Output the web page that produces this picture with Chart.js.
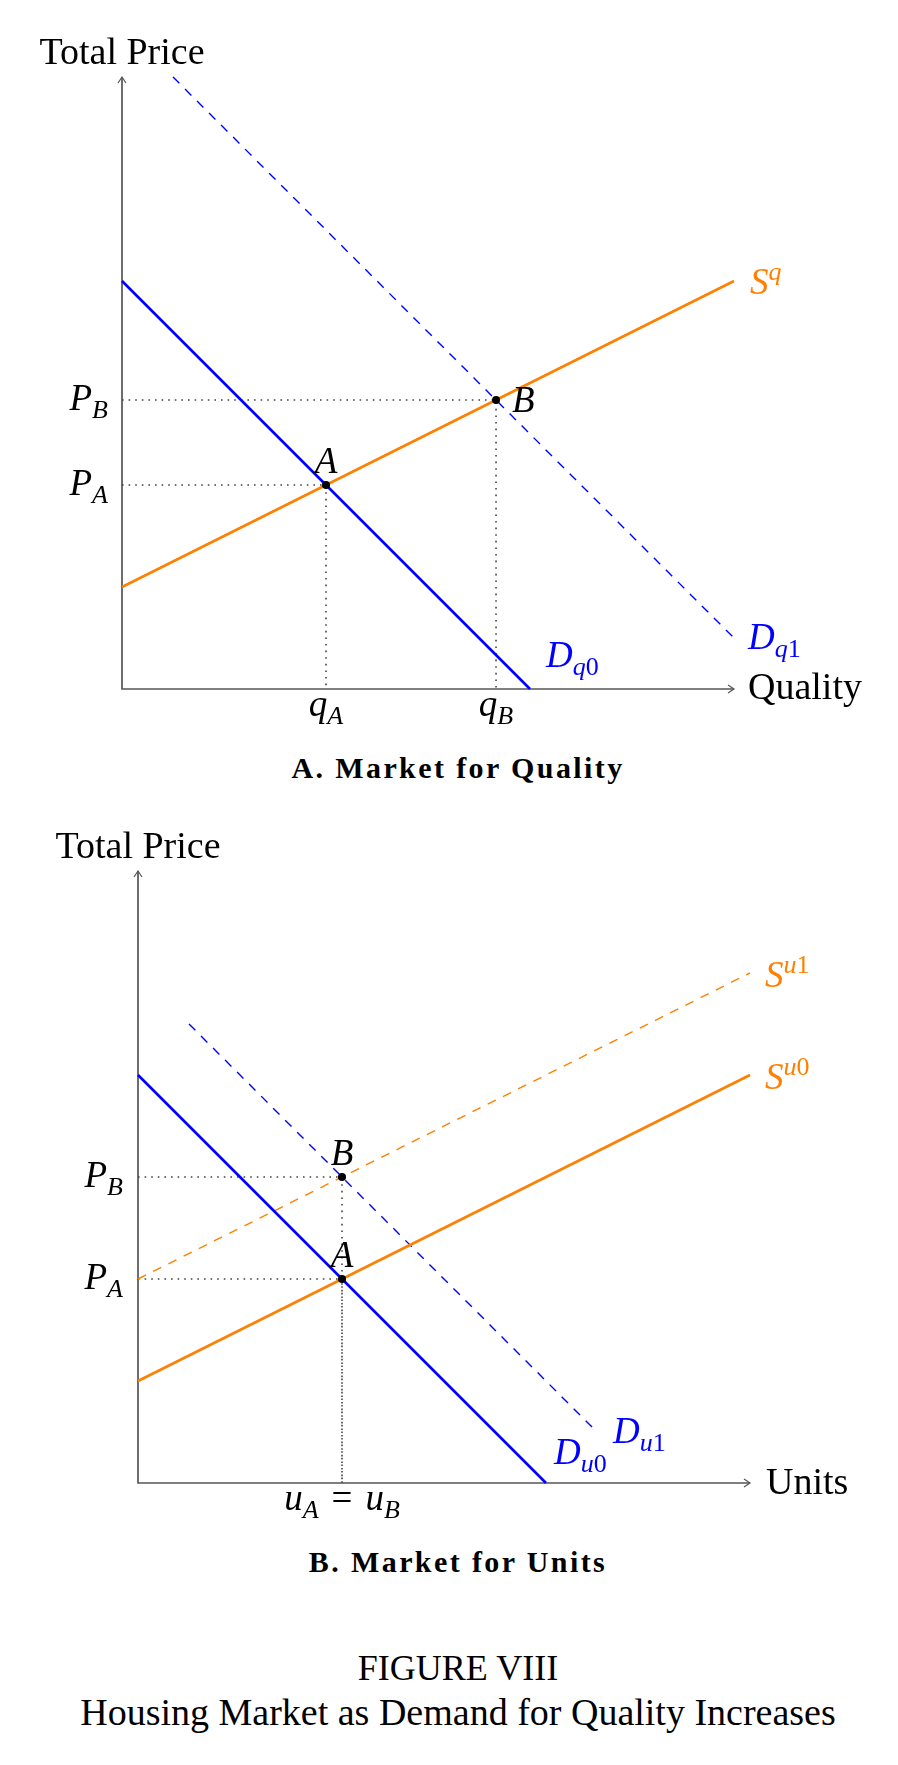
<!DOCTYPE html>
<html>
<head>
<meta charset="utf-8">
<script src="https://cdn.jsdelivr.net/npm/chart.js@4.4.0/dist/chart.umd.min.js"></script>
<style>
  html, body { margin: 0; padding: 0; background: #fff; }
  body { width: 898px; height: 1765px; position: relative; overflow: hidden; font-family: "Liberation Serif", serif; color: #000; }
  canvas { position: absolute; left: 0; }
  #chartA { top: 0; }
  #chartB { top: 800px; }
  .panel-title { position: absolute; left: 0; width: 916px; text-align: center; font-weight: bold; font-size: 30px; line-height: 1; letter-spacing: 2.4px; }
  .caption { position: absolute; left: 0; width: 916px; text-align: center; font-size: 38px; line-height: 1; }
</style>
</head>
<body>
<canvas id="chartA" width="898" height="740"></canvas>
<div class="panel-title" style="top:753px">A. Market for Quality</div>
<canvas id="chartB" width="898" height="740"></canvas>
<div class="panel-title" style="top:1547px">B. Market for Units</div>
<div class="caption" style="top:1650px; font-size:36px">FIGURE VIII</div>
<div class="caption" style="top:1693px">Housing Market as Demand for Quality Increases</div>

<script>
// panel A - market for quality (axis runs 0..6 both ways)
const qDemand0 = [{ x: 0, y: 4 }, { x: 4, y: 0 }];
const qDemand1 = [{ x: 0.5, y: 6 }, { x: 6, y: 0.5 }];
const qSupply = [{ x: 0, y: 1 }, { x: 6, y: 4 }];
const qEquilibria = [{ x: 2, y: 2 }, { x: 3.667, y: 2.833 }];
const qPointNames = ["A", "B"];
const qPriceTicks = ["P_A", "P_B"];
const qQtyTicks = ["q_A", "q_B"];

// panel B - market for units
const uDemand0 = [{ x: 0, y: 4 }, { x: 4, y: 0 }];
const uDemand1 = [{ x: 0.5, y: 4.5 }, { x: 4.5, y: 0.5 }];
const uSupply0 = [{ x: 0, y: 1 }, { x: 6, y: 4 }];
const uSupply1 = [{ x: 0, y: 2 }, { x: 6, y: 5 }];
const uEquilibria = [{ x: 2, y: 2 }, { x: 2, y: 3 }];
const uPointNames = ["A", "B"];
const uPriceTicks = ["P_A", "P_B"];
const uQtyTick = "u_A = u_B";

const AXIS_MAX = 6;
const BLUE = "#0000ff";
const ORANGE = "#ff8000";
const GREY = "#555555";
const SERIF = '"Liberation Serif", "DejaVu Serif", serif';

// split a tiny tex-like string into glyph runs (letters italic, digits upright)
function mathRuns(src) {
  const runs = [];
  let i = 0;
  while (i < src.length) {
    const ch = src[i];
    if (ch === "_" || ch === "^") {
      const level = ch === "_" ? 1 : -1;
      i++;
      let grp;
      if (src[i] === "{") {
        const j = src.indexOf("}", i);
        grp = src.slice(i + 1, j);
        i = j + 1;
      } else {
        grp = src[i];
        i++;
      }
      for (const c of grp) runs.push({ c, level });
      continue;
    }
    runs.push({ c: ch, level: 0 });
    i++;
  }
  return runs;
}

function runFont(r) {
  const size = r.level ? 26 : 37;
  const ital = /[A-Za-z]/.test(r.c);
  return (ital ? "italic " : "") + size + "px " + SERIF;
}

function drawLabel(ctx, lab, x, y) {
  ctx.save();
  ctx.fillStyle = lab.color || "#000";
  ctx.textBaseline = "alphabetic";
  if (lab.plain) {
    ctx.font = "38px " + SERIF;
    ctx.textAlign = lab.align || "left";
    ctx.fillText(lab.text, x, y);
    ctx.restore();
    return;
  }
  const runs = mathRuns(lab.text);
  let total = 0;
  const widths = runs.map(r => {
    ctx.font = runFont(r);
    // math spacing around relations is wider than a plain space
    const w = r.c === " " ? 13 : ctx.measureText(r.c).width;
    total += w;
    return w;
  });
  let cx = x;
  if (lab.align === "center") cx = x - total / 2;
  if (lab.align === "right") cx = x - total;
  ctx.textAlign = "left";
  runs.forEach((r, i) => {
    ctx.font = runFont(r);
    const off = r.level === 1 ? 8 : r.level === -1 ? -14 : 0;
    if (r.c !== " ") ctx.fillText(r.c, cx, y + off);
    cx += widths[i];
  });
  ctx.restore();
}

// axes with arrow heads + all the text labels
function makeOverlay(labels) {
  return {
    id: "econOverlay",
    beforeDatasetsDraw(chart) {
      const { ctx, scales: { x, y } } = chart;
      const x0 = x.getPixelForValue(0), y0 = y.getPixelForValue(0);
      const xe = x.getPixelForValue(AXIS_MAX), ye = y.getPixelForValue(AXIS_MAX);
      ctx.save();
      ctx.strokeStyle = GREY;
      ctx.lineWidth = 1.7;
      ctx.beginPath();
      ctx.moveTo(x0, ye);
      ctx.lineTo(x0, y0);
      ctx.lineTo(xe, y0);
      ctx.stroke();
      ctx.lineWidth = 1.2;
      ctx.beginPath();
      ctx.moveTo(x0 - 4, ye + 6);
      ctx.lineTo(x0, ye);
      ctx.lineTo(x0 + 4, ye + 6);
      ctx.moveTo(xe - 6, y0 - 4);
      ctx.lineTo(xe, y0);
      ctx.lineTo(xe - 6, y0 + 4);
      ctx.stroke();
      ctx.restore();
    },
    afterDatasetsDraw(chart) {
      const { ctx, scales: { x, y } } = chart;
      labels.forEach(lab => {
        const px = x.getPixelForValue(lab.at.x) + (lab.dx || 0);
        const py = y.getPixelForValue(lab.at.y) + (lab.dy || 0);
        drawLabel(ctx, lab, px, py);
      });
    }
  };
}

function curve(data, color, dashed) {
  return {
    data,
    showLine: true,
    borderColor: color,
    borderWidth: dashed ? 1.4 : 2.6,
    borderDash: dashed ? [9, 8] : [],
    pointRadius: 0,
    fill: false,
    clip: false,
    order: 1
  };
}

function guide(p) {
  return {
    data: [{ x: 0, y: p.y }, { x: p.x, y: p.y }, { x: p.x, y: 0 }],
    showLine: true,
    borderColor: "#444444",
    borderWidth: 1.6,
    borderDash: [1.6, 5],
    pointRadius: 0,
    fill: false,
    clip: false,
    order: 2
  };
}

function dots(points) {
  return {
    data: points,
    showLine: false,
    pointRadius: 4,
    pointBackgroundColor: "#000",
    pointBorderWidth: 0,
    clip: false,
    order: 0
  };
}

function makeChart(id, datasets, labels, pad) {
  return new Chart(document.getElementById(id), {
    type: "scatter",
    data: { datasets },
    options: {
      responsive: false,
      animation: false,
      events: [],
      layout: { padding: pad },
      scales: {
        x: { type: "linear", min: 0, max: AXIS_MAX, display: false },
        y: { type: "linear", min: 0, max: AXIS_MAX, display: false }
      },
      plugins: { legend: { display: false }, tooltip: { enabled: false } }
    },
    plugins: [makeOverlay(labels)]
  });
}

// ---- panel A
const labelsA = [
  { text: "Total Price", plain: true, align: "center", at: { x: 0, y: AXIS_MAX }, dy: -13 },
  { text: "Quality", plain: true, align: "left", at: { x: AXIS_MAX, y: 0 }, dx: 14, dy: 10 },
  { text: "S^q", color: ORANGE, at: qSupply[1], dx: 16, dy: 13 },
  { text: "D_{q1}", color: BLUE, at: qDemand1[1], dx: 14, dy: 11 },
  { text: "D_{q0}", color: BLUE, at: qDemand0[1], dx: 16, dy: -22 },
  { text: qPointNames[0], align: "center", at: qEquilibria[0], dy: -12 },
  { text: qPointNames[1], align: "left", at: qEquilibria[1], dx: 16, dy: 12 }
];
qEquilibria.forEach((p, i) => {
  labelsA.push({ text: qPriceTicks[i], align: "right", at: { x: 0, y: p.y }, dx: -14, dy: 10 });
  labelsA.push({ text: qQtyTicks[i], align: "center", at: { x: p.x, y: 0 }, dy: 27 });
});

makeChart("chartA", [
  dots(qEquilibria),
  curve(qDemand0, BLUE, false),
  curve(qSupply, ORANGE, false),
  curve(qDemand1, BLUE, true),
  ...qEquilibria.map(guide)
], labelsA, { left: 122, right: 164, top: 77, bottom: 51 });

// ---- panel B
const labelsB = [
  { text: "Total Price", plain: true, align: "center", at: { x: 0, y: AXIS_MAX }, dy: -13 },
  { text: "Units", plain: true, align: "left", at: { x: AXIS_MAX, y: 0 }, dx: 16, dy: 11 },
  { text: "S^{u1}", color: ORANGE, at: uSupply1[1], dx: 15, dy: 14 },
  { text: "S^{u0}", color: ORANGE, at: uSupply0[1], dx: 15, dy: 14 },
  { text: "D_{u1}", color: BLUE, at: uDemand1[1], dx: 16, dy: 11 },
  { text: "D_{u0}", color: BLUE, at: uDemand0[1], dx: 8, dy: -19 },
  { text: uQtyTick, align: "center", at: { x: uEquilibria[0].x, y: 0 }, dy: 27 }
];
uEquilibria.forEach((p, i) => {
  labelsB.push({ text: uPointNames[i], align: "center", at: p, dy: -12 });
  labelsB.push({ text: uPriceTicks[i], align: "right", at: { x: 0, y: p.y }, dx: -15, dy: 10 });
});

makeChart("chartB", [
  dots(uEquilibria),
  curve(uDemand0, BLUE, false),
  curve(uSupply0, ORANGE, false),
  curve(uDemand1, BLUE, true),
  curve(uSupply1, ORANGE, true),
  ...uEquilibria.map(guide)
], labelsB, { left: 138, right: 148, top: 71, bottom: 57 });
</script>
</body>
</html>
